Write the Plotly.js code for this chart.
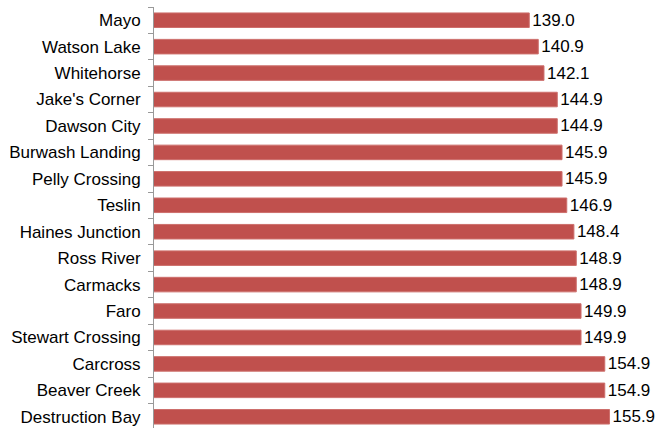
<!DOCTYPE html>
<html>
<head>
<meta charset="utf-8">
<script src="https://cdn.plot.ly/plotly-3.0.1.min.js"></script>
<style>html,body{margin:0;padding:0;overflow:hidden;background:#fff;}</style>
</head>
<body>
<div id="chart"></div>
<script>
var communities = ["Mayo","Watson Lake","Whitehorse","Jake's Corner","Dawson City","Burwash Landing","Pelly Crossing","Teslin","Haines Junction","Ross River","Carmacks","Faro","Stewart Crossing","Carcross","Beaver Creek","Destruction Bay"];
var prices = [139.0,140.9,142.1,144.9,144.9,145.9,145.9,146.9,148.4,148.9,148.9,149.9,149.9,154.9,154.9,155.9];
var priceLabels = prices.map(function(v){return v.toFixed(1);});

Plotly.newPlot('chart', [{
  type: 'bar',
  orientation: 'h',
  y: communities,
  x: prices,
  text: priceLabels,
  textposition: 'outside',
  constraintext: 'none',
  cliponaxis: false,
  textfont: {family: 'Liberation Sans, Arial, sans-serif', size: 17, color: '#000'},
  marker: {color: '#C0504D', line: {color: '#CD6F6C', width: 1}},
  hoverinfo: 'none'
}], {
  width: 660, height: 431,
  margin: {l: 154, r: 31, t: 7, b: 1},
  bargap: 0.45,
  showlegend: false,
  paper_bgcolor: '#fff', plot_bgcolor: '#fff',
  font: {family: 'Liberation Sans, Arial, sans-serif', size: 17, color: '#000'},
  xaxis: {range: [60, 160], visible: false, showgrid: false, zeroline: false},
  yaxis: {
    type: 'category', autorange: 'reversed',
    showline: true, linecolor: '#999', linewidth: 1,
    ticks: 'outside', ticklen: 5, tickcolor: '#999', tickson: 'boundaries',
    ticklabelstandoff: 9,
    showgrid: false, zeroline: false,
    tickfont: {family: 'Liberation Sans, Arial, sans-serif', size: 17, color: '#000'}
  }
}, {displayModeBar: false, staticPlot: true});
</script>
</body>
</html>
